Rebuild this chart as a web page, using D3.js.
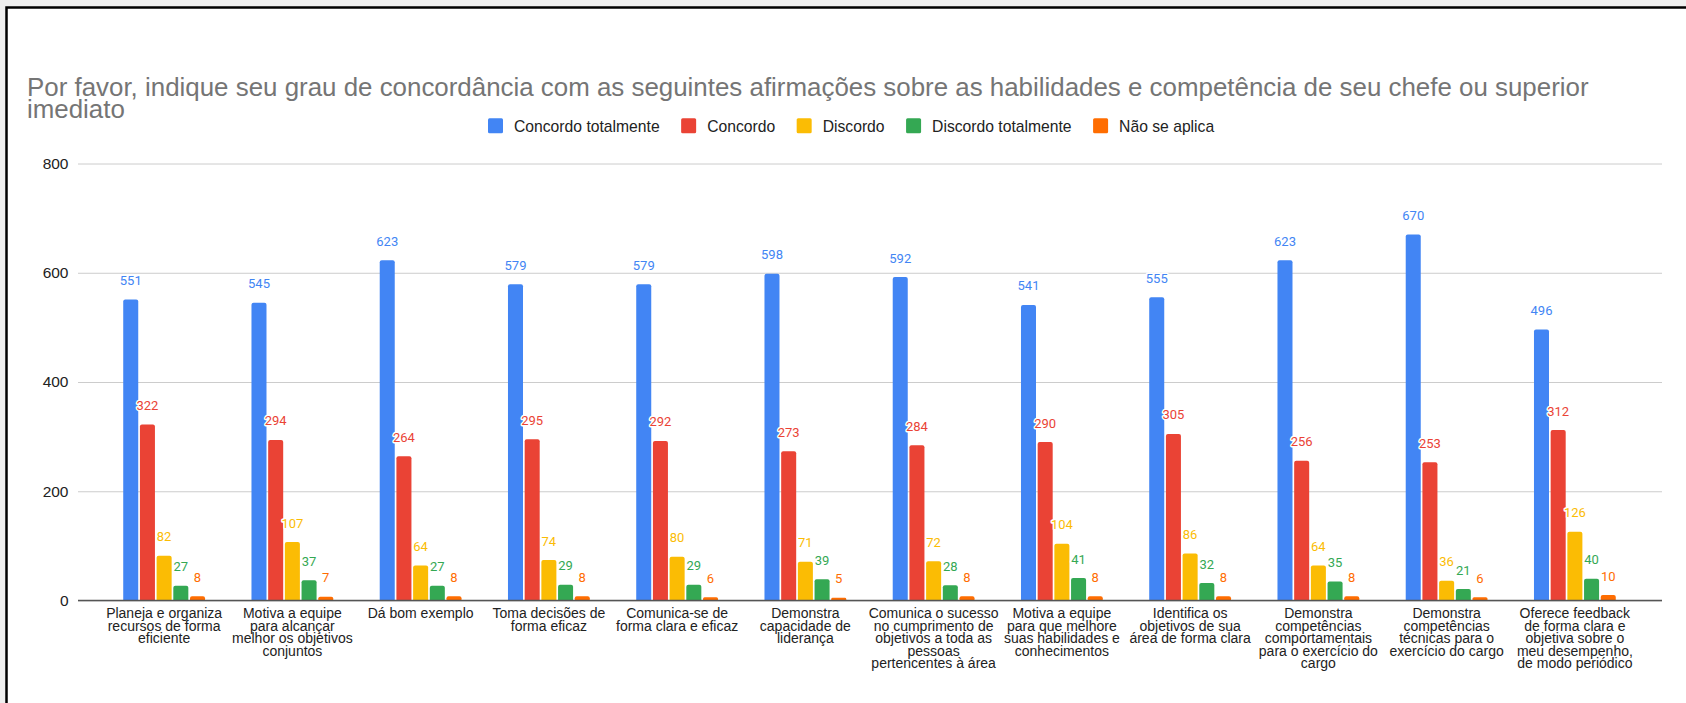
<!DOCTYPE html>
<html>
<head>
<meta charset="utf-8">
<script src="https://cdn.jsdelivr.net/npm/d3@7"></script>
<style>
  html, body { margin: 0; padding: 0; background: #efefef; }
  svg { display: block; }
</style>
</head>
<body>
<svg id="chart" width="1686" height="703"></svg>
<script>
// Survey answers about the manager's skills, one group of bars per statement
const categories = [
  "Planeja e organiza\nrecursos de forma\neficiente",
  "Motiva a equipe\npara alcançar\nmelhor os objetivos\nconjuntos",
  "Dá bom exemplo",
  "Toma decisões de\nforma eficaz",
  "Comunica-se de\nforma clara e eficaz",
  "Demonstra\ncapacidade de\nliderança",
  "Comunica o sucesso\nno cumprimento de\nobjetivos a toda as\npessoas\npertencentes à área",
  "Motiva a equipe\npara que melhore\nsuas habilidades e\nconhecimentos",
  "Identifica os\nobjetivos de sua\nárea de forma clara",
  "Demonstra\ncompetências\ncomportamentais\npara o exercício do\ncargo",
  "Demonstra\ncompetências\ntécnicas para o\nexercício do cargo",
  "Oferece feedback\nde forma clara e\nobjetiva sobre o\nmeu desempenho,\nde modo periódico"
];

const seriesNames = ["Concordo totalmente", "Concordo", "Discordo", "Discordo totalmente", "Não se aplica"];
const seriesColors = ["#4285F4", "#EA4335", "#FBBC04", "#34A853", "#FF6D01"];

const concordoTotalmente = [551, 545, 623, 579, 579, 598, 592, 541, 555, 623, 670, 496];
const concordo           = [322, 294, 264, 295, 292, 273, 284, 290, 305, 256, 253, 312];
const discordo           = [82, 107, 64, 74, 80, 71, 72, 104, 86, 64, 36, 126];
const discordoTotalmente = [27, 37, 27, 29, 29, 39, 28, 41, 32, 35, 21, 40];
const naoSeAplica        = [8, 7, 8, 8, 6, 5, 8, 8, 8, 8, 6, 10];

const yTicks = [0, 200, 400, 600, 800];

const titleLines = [
  "Por favor, indique seu grau de concordância com as seguintes afirmações sobre as habilidades e competência de seu chefe ou superior",
  "imediato"
];

const seriesValues = [concordoTotalmente, concordo, discordo, discordoTotalmente, naoSeAplica];

const svg = d3.select("#chart");

// card with a dark frame
svg.append("rect")
  .attr("x", 6.5).attr("y", 7.5)
  .attr("width", 1700).attr("height", 720)
  .attr("fill", "#ffffff")
  .attr("stroke", "#000000")
  .attr("stroke-width", 2.5);

// title
const title = svg.append("text")
  .attr("fill", "#757575")
  .style("font-family", "'Liberation Sans', Arial, sans-serif")
  .style("font-size", "25.9px");
title.selectAll("tspan").data(titleLines).join("tspan")
  .attr("x", 27)
  .attr("y", (d, i) => 95.5 + i * 22.5)
  .text(d => d);

// scales
const plotLeft = 78, plotRight = 1662;
const y = d3.scaleLinear().domain([0, 800]).range([600.5, 163.5]);
const x0 = d3.scaleBand().domain(categories).range([100, 1639]).padding(0);
const x1 = d3.scaleBand().domain(seriesNames).range([-40.9, 40.9]).paddingInner(0.1);
const color = d3.scaleOrdinal().domain(seriesNames).range(seriesColors);

// y axis with gridlines
const yAxis = d3.axisLeft(y)
  .tickValues(yTicks)
  .tickSize(-(plotRight - plotLeft))
  .tickPadding(9.5)
  .tickFormat(d3.format("d"));

const gy = svg.append("g")
  .attr("transform", `translate(${plotLeft},0)`)
  .call(yAxis);
gy.select(".domain").remove();
gy.selectAll(".tick line").attr("stroke", "#cccccc").attr("stroke-width", 1);
gy.selectAll(".tick text")
  .attr("fill", "#222222")
  .style("font-family", "'Liberation Sans', Arial, sans-serif")
  .style("font-size", "15.5px");

// bars
const rows = categories.map((c, i) => ({
  category: c,
  values: seriesNames.map((s, k) => ({ series: s, value: seriesValues[k][i] }))
}));

function topRoundedBar(x, yTop, w, yBase, r) {
  const h = yBase - yTop;
  const rr = Math.min(r, h / 2, w / 2);
  return `M${x},${yBase}V${yTop + rr}Q${x},${yTop} ${x + rr},${yTop}` +
         `H${x + w - rr}Q${x + w},${yTop} ${x + w},${yTop + rr}V${yBase}Z`;
}

const groups = svg.append("g").selectAll("g")
  .data(rows).join("g")
  .attr("transform", d => `translate(${x0(d.category) + x0.bandwidth() / 2},0)`);

groups.selectAll("path")
  .data(d => d.values).join("path")
  .attr("fill", d => color(d.series))
  .attr("d", d => topRoundedBar(x1(d.series), y(d.value), x1.bandwidth(), y(0), 2));

// baseline
svg.append("line")
  .attr("x1", plotLeft).attr("x2", plotRight)
  .attr("y1", y(0)).attr("y2", y(0))
  .attr("stroke", "#555555").attr("stroke-width", 1.5);

// value labels with a white halo
groups.selectAll("text.val")
  .data(d => d.values).join("text")
  .attr("class", "val")
  .attr("x", d => x1(d.series) + x1.bandwidth() / 2)
  .attr("y", d => y(d.value) - 14.5)
  .attr("text-anchor", "middle")
  .attr("fill", d => color(d.series))
  .attr("stroke", "#ffffff")
  .attr("stroke-width", 3)
  .attr("paint-order", "stroke")
  .attr("stroke-linejoin", "round")
  .style("font-family", "Roboto, sans-serif")
  .style("font-size", "13px")
  .text(d => d.value);

// category labels
const xl = svg.append("g").selectAll("text")
  .data(categories).join("text")
  .attr("text-anchor", "middle")
  .attr("fill", "#222222")
  .style("font-family", "'Liberation Sans', Arial, sans-serif")
  .style("font-size", "14px");
xl.each(function (c) {
  const cx = x0(c) + x0.bandwidth() / 2;
  d3.select(this).selectAll("tspan")
    .data(c.split("\n")).join("tspan")
    .attr("x", cx)
    .attr("y", (d, i) => 618 + i * 12.5)
    .text(d => d);
});

// legend
const legend = svg.append("g").attr("transform", "translate(488,125.7)");
let lx = 0;
seriesNames.forEach((s, k) => {
  const item = legend.append("g").attr("transform", `translate(${lx},0)`);
  item.append("rect")
    .attr("x", 0).attr("y", -7.5)
    .attr("width", 15).attr("height", 15)
    .attr("rx", 1.5)
    .attr("fill", color(s));
  const t = item.append("text")
    .attr("x", 26).attr("y", 5.8)
    .attr("fill", "#222222")
    .style("font-family", "'Liberation Sans', Arial, sans-serif")
    .style("font-size", "15.7px")
    .text(s);
  lx += 26 + t.node().getComputedTextLength() + 21.5;
});
</script>
</body>
</html>
